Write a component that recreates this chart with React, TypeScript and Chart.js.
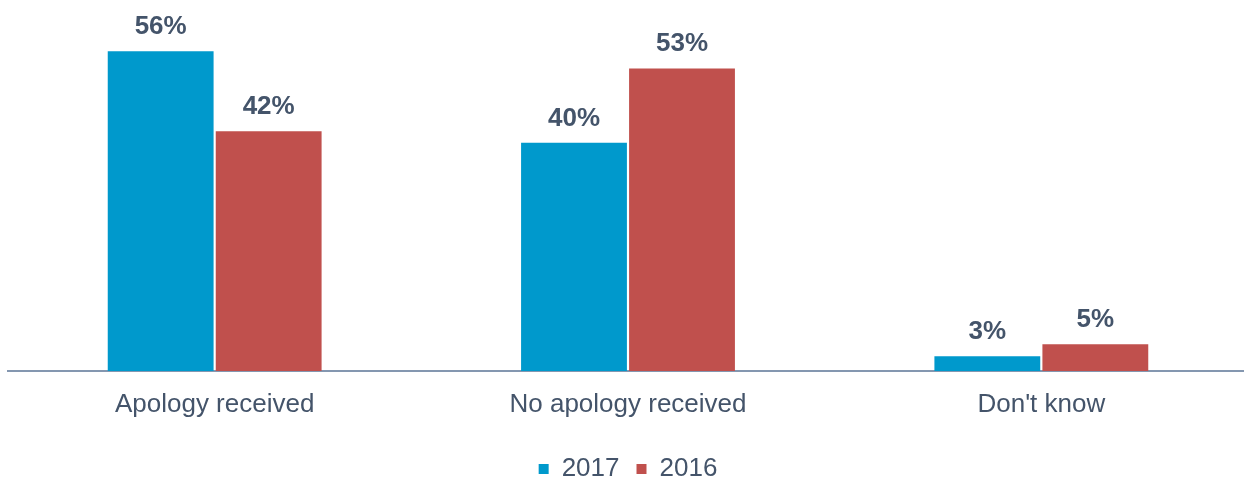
import React, { useEffect, useRef } from "react";
import { Chart, registerables } from "chart.js";

Chart.register(...registerables);

const categories = ["Apology received", "No apology received", "Don't know"];
const series2017 = [56, 40, 2.6];
const series2016 = [42, 53, 4.7];
const seriesNames = ["2017", "2016"];
const seriesColors = ["#0099CC", "#C0504D"];

const FONT = "'Liberation Sans', Arial, sans-serif";
const TEXT = "#44546A";

const valueLabels = {
  id: "valueLabels",
  afterDatasetsDraw(chart: any) {
    const ctx = chart.ctx;
    ctx.save();
    ctx.font = `bold 26px ${FONT}`;
    ctx.fillStyle = TEXT;
    ctx.textAlign = "center";
    ctx.textBaseline = "alphabetic";
    chart.data.datasets.forEach((ds: any, di: number) => {
      const meta = chart.getDatasetMeta(di);
      meta.data.forEach((bar: any, i: number) => {
        const v = ds.data[i];
        ctx.fillText(`${Math.round(v)}%`, bar.x, bar.y - 17);
      });
    });
    ctx.restore();
  },
};

export default function App() {
  const ref = useRef<HTMLCanvasElement | null>(null);
  useEffect(() => {
    if (!ref.current) return;
    const chart = new Chart(ref.current, {
      type: "bar",
      data: {
        labels: categories,
        datasets: [
          {
            label: seriesNames[0],
            data: series2017,
            backgroundColor: seriesColors[0],
            barPercentage: 0.98,
            categoryPercentage: 0.5226,
          },
          {
            label: seriesNames[1],
            data: series2016,
            backgroundColor: seriesColors[1],
            barPercentage: 0.98,
            categoryPercentage: 0.5226,
          },
        ],
      },
      options: {
        responsive: false,
        animation: false,
        layout: { padding: { left: 8, right: 0, top: 0, bottom: 0 } },
        plugins: {
          tooltip: { enabled: false },
          legend: {
            position: "bottom",
            labels: {
              boxWidth: 10,
              boxHeight: 10,
              padding: 17,
              color: TEXT,
              font: { family: FONT, size: 26 },
            },
          },
        },
        scales: {
          x: {
            grid: { display: false, drawTicks: false },
            border: { display: true, color: "#8497B0", width: 2 },
            ticks: {
              color: TEXT,
              padding: 18,
              font: { family: FONT, size: 26 },
            },
            afterFit: (scale: any) => {
              scale.height = 68;
            },
          },
          y: {
            display: false,
            min: 0,
            max: 65,
          },
        },
      },
      plugins: [valueLabels],
    });
    return () => chart.destroy();
  }, []);
  return (
    <div
      style={{
        position: "fixed",
        left: 0,
        top: 0,
        width: 1244,
        height: 485,
        overflow: "hidden",
        background: "#fff",
      }}
    >
      <canvas ref={ref} width={1248} height={492} style={{ display: "block" }} />
    </div>
  );
}
